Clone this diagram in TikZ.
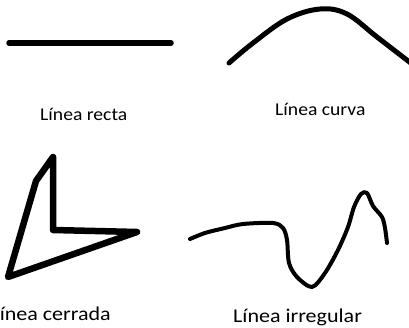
\documentclass[tikz,border=0pt]{standalone}
\usepackage{fontspec}
\setmainfont{Carlito}
\begin{document}
\begin{tikzpicture}[x=1pt,y=-1pt,
  stroke/.style={line width=#1,line cap=round,line join=round},
  lbltop/.style={inner sep=0pt,font=\fontsize{18}{20}\selectfont,xscale=1.09},
  lblbot/.style={inner sep=0pt,font=\fontsize{19.5}{22}\selectfont,xscale=1.13}]
\useasboundingbox (0,0) rectangle (409,328);
% straight line
\coordinate (s1) at (9,43);
\coordinate (s2) at (171,43);
\draw[stroke=5.5pt] (s1) -- (s2);
% curve
\draw[stroke=5pt] plot[smooth,tension=0.6] coordinates {(229,63) (253,43) (287,19) (320,9) (347,14) (377,37) (412,64)};
% closed shape
\coordinate (c1) at (53,157);
\coordinate (c2) at (36,181);
\coordinate (c3) at (8,277);
\coordinate (c4) at (137,232);
\coordinate (c5) at (53,230);
\draw[stroke=6.5pt,line join=round] (c1) -- (c2) -- (c3) -- (c4) -- (c5) -- cycle;
% irregular line
\draw[stroke=4pt] plot[smooth,tension=0.5] coordinates {(190,239) (205,233) (225,228) (243,224) (273,223) (283,228) (287,240) (289,263) (297,277) (312,287) (325,273) (338,250) (348,227) (354,207) (361,194) (367,193) (373,206) (382,217) (385,228) (387,243)};
% labels
\node[lbltop,anchor=base west] (lr) at (40,121) {Línea recta};
\node[lbltop,anchor=base west] (lc) at (275,116) {Línea curva};
\node[lblbot,anchor=base east] (lce) at (111,320) {Línea cerrada};
\node[lblbot,anchor=base west] (li) at (233,322) {Línea irregular};
\end{tikzpicture}
\end{document}
